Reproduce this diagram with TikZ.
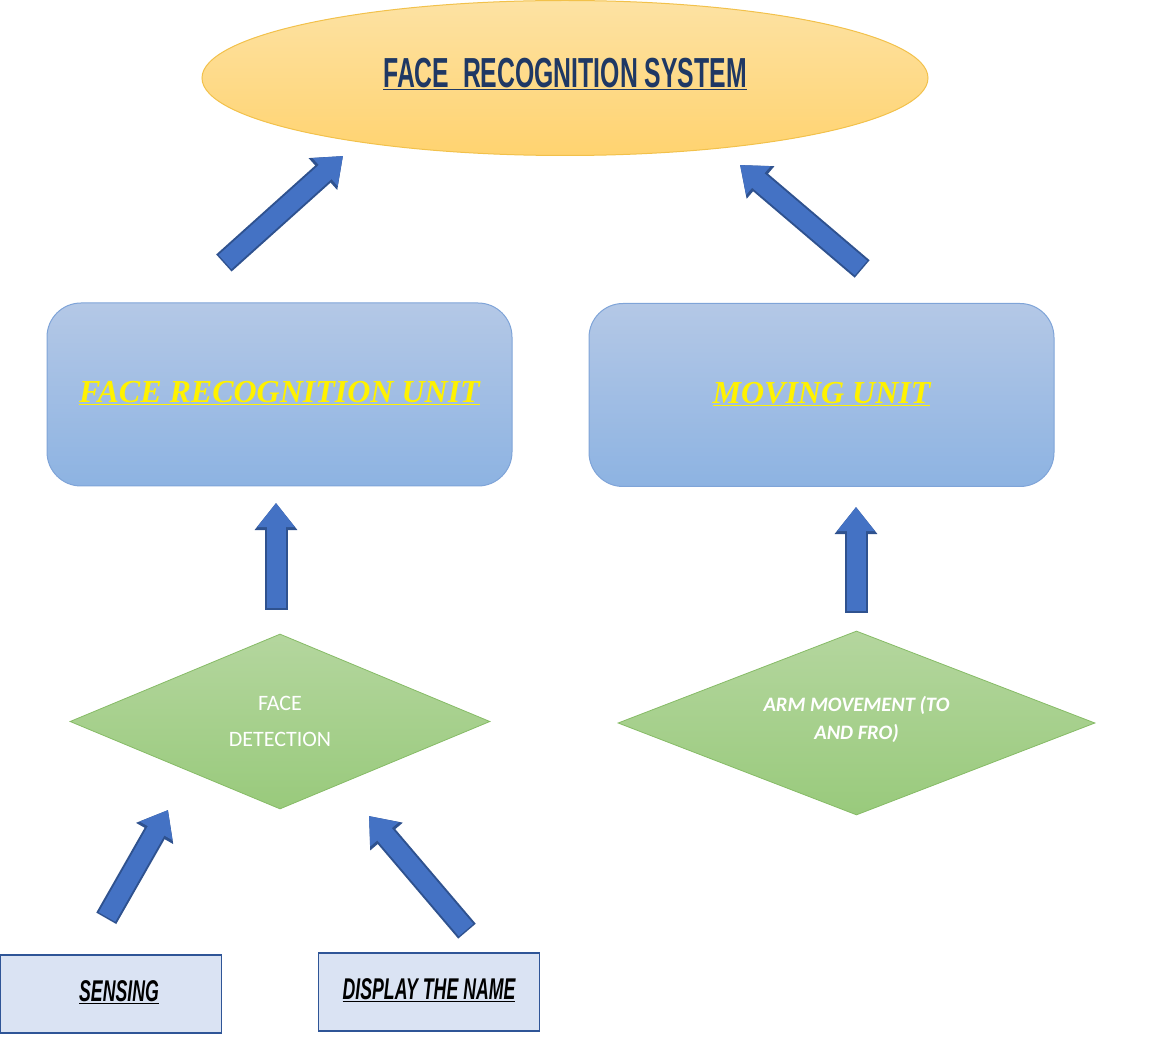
\documentclass[tikz,border=0pt]{standalone}
\usepackage{fontspec}
\usepackage{tikz}
\usetikzlibrary{positioning,shapes.geometric,arrows.meta}

\newfontfamily\agencyfont[FakeStretch=0.59]{Liberation Sans}
\newfontfamily\decofont{Liberation Serif}
\newfontfamily\calibfont{Carlito}

\definecolor{arrowfill}{HTML}{4472C4}
\definecolor{arrowedge}{HTML}{2F528F}
\definecolor{titlenavy}{HTML}{1F3864}
\definecolor{sysedge}{HTML}{F2C14B}
\definecolor{unitedge}{HTML}{7FA4D8}
\definecolor{decedge}{HTML}{86BB66}
\definecolor{ioedge}{HTML}{2F5597}
\definecolor{iofill}{HTML}{DAE3F3}

\tikzset{
  sysnode/.style={ellipse, draw=sysedge, line width=1pt, top color={rgb,255:red,253;green,226;blue,163}, bottom color={rgb,255:red,255;green,211;blue,112}, minimum width=726, minimum height=155, inner sep=0pt},
  unitnode/.style={rectangle, rounded corners=34pt, draw=unitedge, line width=1pt, top color={rgb,255:red,180;green,200;blue,230}, bottom color={rgb,255:red,141;green,179;blue,226}, minimum width=465, minimum height=183, text=yellow, font=\decofont\bfseries\itshape\fontsize{32}{32}\selectfont},
  decnode/.style={diamond, draw=decedge, line width=0.8pt, top color={rgb,255:red,180;green,214;blue,158}, bottom color={rgb,255:red,153;green,202;blue,124}, inner sep=0pt, text=white, align=center},
  ionode/.style={rectangle, draw=ioedge, line width=1.6pt, fill=iofill, minimum width=221, minimum height=78, font=\agencyfont\bfseries\itshape\fontsize{30}{30}\selectfont},
  arrowout/.style={draw=arrowedge, line width=23pt, shorten <=-1.5pt, -{Triangle[width=41pt,length=27pt]}},
  arrowin/.style={draw=arrowfill, line width=19pt, -{Triangle[width=36pt,length=24pt]}}
}

\begin{document}
\begin{tikzpicture}[x=1pt, y=-1pt]
        \useasboundingbox (0,0) rectangle (1152,1040);

        % Top
        \node[sysnode, text=titlenavy, font=\agencyfont\bfseries\fontsize{42}{42}\selectfont] (sys) at (565,78) {\raisebox{10pt}{\underline{FACE\ \ RECOGNITION SYSTEM}}};

        % Units
        \node[unitnode] (fru) at (279.5,394.5) {\raisebox{5pt}{\underline{FACE RECOGNITION UNIT}}};
        \node[unitnode] (mvu) at (821.5,395) {\raisebox{5pt}{\underline{MOVING UNIT}}};

        % Decisions
        \node[decnode, aspect=2.4, minimum width=420, minimum height=175, font=\calibfont\fontsize{22}{36}\selectfont] (det) at (280,721.5) {FACE\\DETECTION};
        \node[decnode, aspect=2.6, minimum width=477, minimum height=184, font=\calibfont\bfseries\itshape\fontsize{20.5}{28}\selectfont] (arm) at (856.5,723) {\raisebox{11pt}{ARM MOVEMENT (TO}\\\raisebox{11pt}{AND FRO)}};

        % Inputs / outputs
        \node[ionode] (sense) at (111,994) {\hspace*{16pt}\raisebox{6pt}{\underline{SENSING}}};
        \node[ionode] (disp) at (429,992) {\raisebox{6pt}{\underline{DISPLAY THE NAME}}};

        % Arrow ends
        \coordinate (a1s) at (225,262);
        \coordinate (a1e) at (343,156);
        \coordinate (a2s) at (861,268);
        \coordinate (a2e) at (740,165);
        \coordinate (a3s) at (276,608);
        \coordinate (a3e) at (276,503);
        \coordinate (a4s) at (856,611);
        \coordinate (a4e) at (856,507);
        \coordinate (a5s) at (107,917);
        \coordinate (a5e) at (168,810);
        \coordinate (a6s) at (466,930);
        \coordinate (a6e) at (369,816);

        % Connections
        \foreach \i in {1,...,6} {
          \draw[arrowout] (a\i s) -- (a\i e);
          \draw[arrowin] (a\i s) -- (a\i e);
        }

\end{tikzpicture}
\end{document}
